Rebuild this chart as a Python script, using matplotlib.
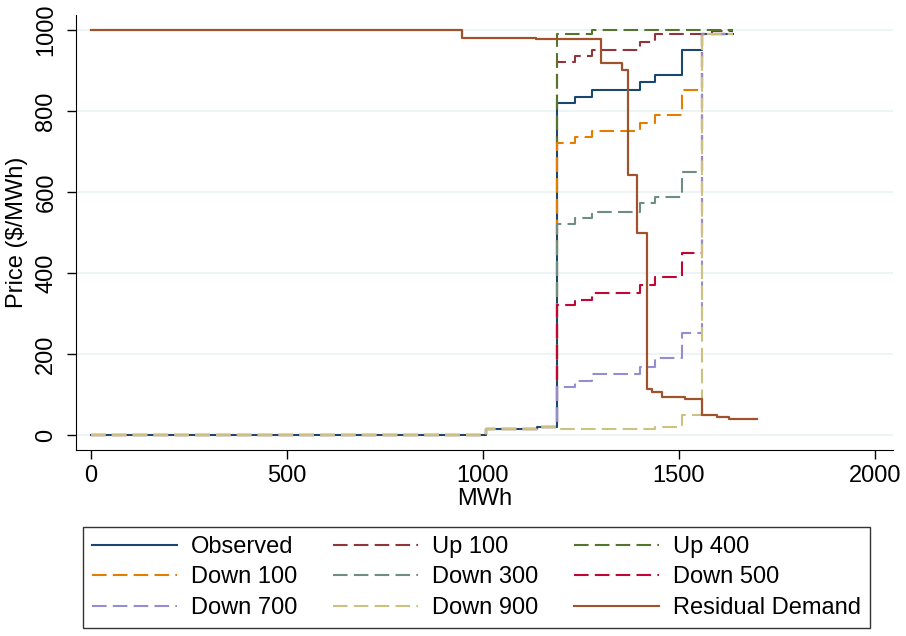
import matplotlib
matplotlib.use("Agg")
import matplotlib.pyplot as plt
from matplotlib.lines import Line2D

# --- data ---
# supply offer curves share the same quantity breakpoints (MWh);
# price on [q[i], q[i+1]) is p[i], last value repeated to close the step
q_supply = [0, 1007, 1137, 1188, 1236, 1278, 1400, 1439, 1508, 1559, 1584, 1637]
observed = [0, 14, 20, 820, 835, 851, 871, 890, 951, 990, 990, 990]
up_100 = [0, 14, 20, 922, 936, 951, 970, 990, 990, 990, 998, 998]
up_400 = [0, 14, 20, 990, 990, 1000, 1000, 1000, 1000, 1000, 1000, 1000]
down_100 = [0, 14, 20, 720, 735, 751, 771, 790, 851, 990, 990, 990]
down_300 = [0, 14, 20, 520, 535, 551, 572, 588, 650, 990, 990, 990]
down_500 = [0, 14, 20, 321, 334, 350, 370, 391, 450, 990, 990, 990]
down_700 = [0, 14, 20, 119, 134, 150, 169, 189, 251, 990, 990, 990]
down_900 = [0, 14, 20, 14, 14, 14, 14, 20, 49, 990, 990, 990]

q_resid = [0, 946, 1007, 1135, 1301, 1354, 1369, 1394, 1419, 1431, 1456, 1515, 1558, 1596, 1628, 1698]
p_resid = [1000, 981, 979, 977, 918, 900, 642, 500, 113, 107, 93, 90, 49, 45, 39, 39]

series = [
    ("Observed", observed, "#1a476f", "-"),
    ("Up 100", up_100, "#90353b", "--"),
    ("Up 400", up_400, "#55752f", "--"),
    ("Down 100", down_100, "#e37e00", "--"),
    ("Down 300", down_300, "#6e8e84", "--"),
    ("Down 500", down_500, "#c10534", "--"),
    ("Down 700", down_700, "#938dd2", "--"),
    ("Down 900", down_900, "#cac27e", "--"),
]
resid_color = "#a0522d"
DASH = (7, 3)

plt.rcParams["font.family"] = ["Liberation Sans", "DejaVu Sans"]
plt.rcParams["font.size"] = 17

fig = plt.figure(figsize=(9.06, 6.36), dpi=100)
ax = fig.add_axes([76 / 906, 1 - 450 / 636, (893 - 76) / 906, (450 - 15) / 636])

handles = {}
for label, prices, color, ls in series:
    (h,) = ax.step(q_supply, prices, where="post", color=color, lw=1.5,
                   linestyle=ls, dashes=DASH if ls == "--" else (None, None))
    handles[label] = h
(h,) = ax.step(q_resid, p_resid, where="post", color=resid_color, lw=1.6)
handles["Residual Demand"] = h

ax.set_xlim(-38, 2046)
ax.set_ylim(-37, 1037)
ax.set_xticks([0, 500, 1000, 1500, 2000])
ax.set_yticks([0, 200, 400, 600, 800, 1000])
ax.grid(axis="y", color="#eaf2f3", lw=1.2)
ax.set_axisbelow(True)
for side in ("top", "right"):
    ax.spines[side].set_visible(False)
ax.tick_params(direction="out", length=6.5, width=1, pad=4)
ax.tick_params(axis="y", pad=7)
for t in ax.get_yticklabels():
    t.set_rotation(90)
    t.set_va("center")
ax.set_xlabel("MWh", labelpad=1)
ax.set_ylabel("Price ($/MWh)", labelpad=5)

# legend filled column by column, so reorder to read row-wise
order = ["Observed", "Down 100", "Down 700",
         "Up 100", "Down 300", "Down 900",
         "Up 400", "Down 500", "Residual Demand"]
leg_handles = []
for name in order:
    src = handles[name]
    if src.get_linestyle() == "-":
        lh = Line2D([], [], color=src.get_color(), lw=1.5)
    else:
        lh = Line2D([], [], color=src.get_color(), lw=1.5, dashes=DASH)
    leg_handles.append(lh)
leg = fig.legend(leg_handles, order, ncol=3, loc="upper left",
                 bbox_to_anchor=(83 / 906, 1 - 527 / 636),
                 frameon=True, fancybox=False, edgecolor="black",
                 handlelength=3.6, handletextpad=0.6, columnspacing=1.5,
                 labelspacing=0.36, borderpad=0.38, borderaxespad=0)
leg.get_frame().set_linewidth(1.0)

fig.savefig("out.png", dpi=100)
